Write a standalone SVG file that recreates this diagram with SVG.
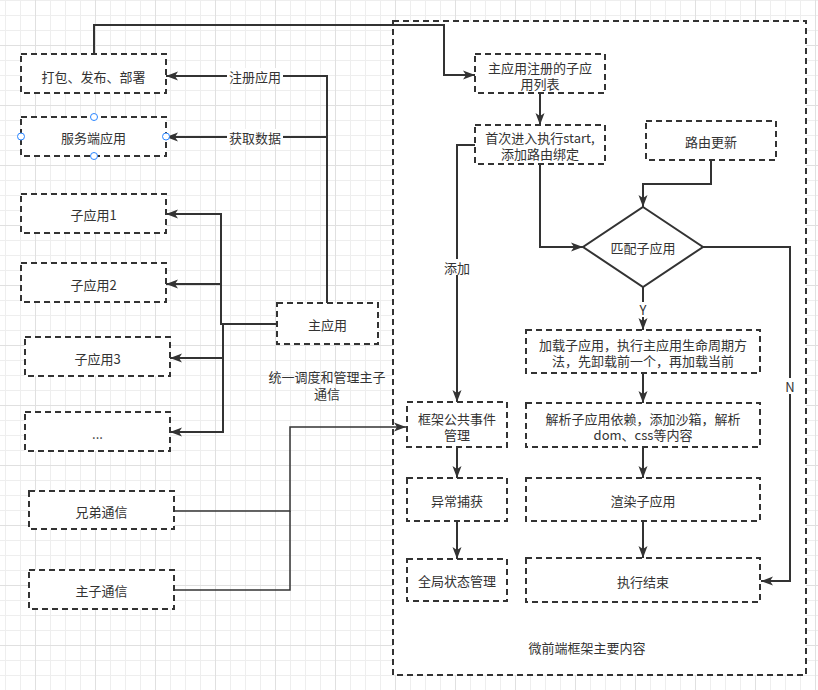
<svg xmlns="http://www.w3.org/2000/svg" width="818" height="690" viewBox="0 0 818 690">
<style>
.box{fill:#fff;stroke:#333;stroke-width:2;stroke-dasharray:6 4}
.t{font-family:"Noto Sans CJK SC","Liberation Sans",sans-serif;font-size:13px;fill:#333;text-anchor:middle;dominant-baseline:central}
.c{fill:none;stroke:#333;stroke-width:2}
.thin{stroke-width:1.5}
.lb{fill:#fff}
.h{fill:#fff;stroke:#2a85ff;stroke-width:1}
</style>
<defs>
<pattern id="grid" patternUnits="userSpaceOnUse" x="-25" y="-15" width="60" height="60">
<path d="M15.5,0V60M30.5,0V60M45.5,0V60M0,15.5H60M0,30.5H60M0,45.5H60" stroke="#eeeeee" stroke-width="1" fill="none"/>
<path d="M0.5,0V60M0,0.5H60" stroke="#e0e0e0" stroke-width="1" fill="none"/>
</pattern>
<marker id="arr" markerUnits="userSpaceOnUse" markerWidth="14" markerHeight="12" refX="12" refY="5" orient="auto" viewBox="0 0 14 10">
<path d="M0,0.5 L12,5 L0,9.5 L3,5 Z" fill="#333"/>
</marker>
</defs>
<rect width="818" height="690" fill="#fff"/>
<rect width="818" height="690" fill="url(#grid)"/>

<g id="container">
<rect class="box" x="393" y="21" width="413" height="654"/>
<text class="t" x="587" y="647">微前端框架主要内容</text>
</g>

<g id="connectors">
<path class="c" d="M94,54 V25 H444 V75 H475" marker-end="url(#arr)"/>
<path class="c" d="M327,303 V76 H166" marker-end="url(#arr)"/>
<path class="c" d="M327,137 H166" marker-end="url(#arr)"/>
<path class="c" d="M277,324 H221 V214 H166" marker-end="url(#arr)"/>
<path class="c" d="M221,284 H166" marker-end="url(#arr)"/>
<path class="c" d="M277,324 H223 V358 H170" marker-end="url(#arr)"/>
<path class="c" d="M223,358 V432 H170" marker-end="url(#arr)"/>
<path class="c thin" d="M174,511 H290 V427 H406" marker-end="url(#arr)"/>
<path class="c thin" d="M174,590 H290 V511"/>
<path class="c" d="M540,93 V125" marker-end="url(#arr)"/>
<path class="c" d="M540,164 V247 H583" marker-end="url(#arr)"/>
<path class="c" d="M711,160 V184 H643 V207" marker-end="url(#arr)"/>
<path class="c" d="M475,145 H457 V402" marker-end="url(#arr)"/>
<path class="c" d="M643,287 V330" marker-end="url(#arr)"/>
<path class="c" d="M703,247 H790 V581 H761" marker-end="url(#arr)"/>
<path class="c" d="M643,373 V403" marker-end="url(#arr)"/>
<path class="c" d="M643,447 V478" marker-end="url(#arr)"/>
<path class="c" d="M643,521 V558" marker-end="url(#arr)"/>
<path class="c" d="M457,447 V478" marker-end="url(#arr)"/>
<path class="c" d="M457,521 V559" marker-end="url(#arr)"/>
<rect class="lb" x="227" y="68" width="56" height="16"/>
<text class="t" x="255" y="76">注册应用</text>
<rect class="lb" x="227" y="129" width="56" height="16"/>
<text class="t" x="255" y="137">获取数据</text>
<rect class="lb" x="443" y="259" width="28" height="16"/>
<text class="t" x="457" y="267">添加</text>
<rect class="lb" x="637" y="302" width="12" height="15"/>
<text class="t" x="643" y="309">Y</text>
<rect class="lb" x="783" y="378" width="14" height="16"/>
<text class="t" x="790" y="386">N</text>
</g>

<g id="n-build"><rect class="box" x="21" y="54" width="145" height="39"/><text class="t" x="93.5" y="76">打包、发布、部署</text></g>
<g id="n-server"><rect class="box" x="21" y="117" width="145" height="39"/><text class="t" x="93.5" y="137">服务端应用</text>
<circle class="h" cx="94" cy="117" r="3.5"/><circle class="h" cx="94" cy="156" r="3.5"/><circle class="h" cx="21" cy="136.5" r="3.5"/><circle class="h" cx="166" cy="136.5" r="3.5"/></g>
<g id="n-sub1"><rect class="box" x="21" y="194" width="145" height="39"/><text class="t" x="93.5" y="214">子应用1</text></g>
<g id="n-sub2"><rect class="box" x="21" y="263" width="145" height="39"/><text class="t" x="93.5" y="284">子应用2</text></g>
<g id="n-sub3"><rect class="box" x="25" y="337" width="145" height="39"/><text class="t" x="97.5" y="358">子应用3</text></g>
<g id="n-more"><rect class="box" x="25" y="412" width="145" height="39"/><text class="t" x="97.5" y="433">...</text></g>
<g id="n-sibling"><rect class="box" x="29" y="491" width="145" height="38"/><text class="t" x="101.5" y="511">兄弟通信</text></g>
<g id="n-mainsub"><rect class="box" x="29" y="570" width="145" height="39"/><text class="t" x="101.5" y="590">主子通信</text></g>
<g id="n-main"><rect class="box" x="277" y="303" width="101" height="41"/><text class="t" x="327.5" y="324">主应用</text></g>
<g id="n-main-label"><text class="t" x="327" y="376">统一调度和管理主子<tspan x="327" dy="17">通信</tspan></text></g>

<g id="n-list"><rect class="box" x="475" y="54" width="130" height="39"/><text class="t" x="540" y="67">主应用注册的子应<tspan x="540" dy="16">用列表</tspan></text></g>
<g id="n-start"><rect class="box" x="475" y="125" width="130" height="39"/><text class="t" x="540" y="137">首次进入执行start,<tspan x="540" dy="16">添加路由绑定</tspan></text></g>
<g id="n-route"><rect class="box" x="646" y="121" width="130" height="39"/><text class="t" x="711" y="141">路由更新</text></g>
<g id="n-match"><polygon points="643,207 703,247 643,287 583,247" fill="#fff" stroke="#333" stroke-width="2"/><text class="t" x="643" y="247">匹配子应用</text></g>
<g id="n-load"><rect class="box" x="526" y="330" width="234" height="43"/><text class="t" x="643" y="344">加载子应用，执行主应用生命周期方<tspan x="643" dy="16">法，先卸载前一个，再加载当前</tspan></text></g>
<g id="n-parse"><rect class="box" x="526" y="403" width="234" height="44"/><text class="t" x="643" y="418">解析子应用依赖，添加沙箱，解析<tspan x="643" dy="16">dom、css等内容</tspan></text></g>
<g id="n-render"><rect class="box" x="526" y="478" width="234" height="43"/><text class="t" x="643" y="500">渲染子应用</text></g>
<g id="n-end"><rect class="box" x="526" y="558" width="234" height="44"/><text class="t" x="643" y="581">执行结束</text></g>
<g id="n-event"><rect class="box" x="407" y="402" width="100" height="45"/><text class="t" x="457" y="418">框架公共事件<tspan x="457" dy="16">管理</tspan></text></g>
<g id="n-error"><rect class="box" x="407" y="478" width="100" height="43"/><text class="t" x="457" y="500">异常捕获</text></g>
<g id="n-state"><rect class="box" x="407" y="559" width="100" height="42"/><text class="t" x="457" y="580">全局状态管理</text></g>
</svg>
